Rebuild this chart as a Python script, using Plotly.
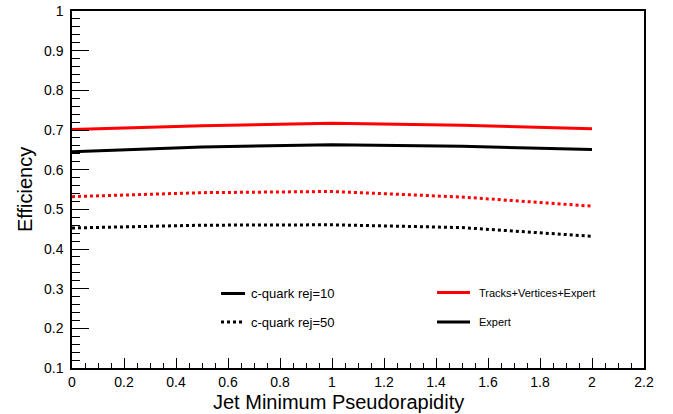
import plotly.graph_objects as go

eta = [0, 0.5, 1.0, 1.5, 2.0]
tve_rej10 = [0.701, 0.711, 0.717, 0.712, 0.703]
exp_rej10 = [0.645, 0.657, 0.663, 0.659, 0.651]
tve_rej50 = [0.532, 0.542, 0.545, 0.531, 0.508]
exp_rej50 = [0.453, 0.460, 0.461, 0.454, 0.432]

FONT = "Liberation Sans, Arial, Helvetica, sans-serif"
DASH = "3px,3px"

fig = go.Figure()
fig.add_trace(go.Scatter(x=eta, y=tve_rej10, mode="lines", line=dict(color="#ff0000", width=3)))
fig.add_trace(go.Scatter(x=eta, y=exp_rej10, mode="lines", line=dict(color="#000000", width=3)))
fig.add_trace(go.Scatter(x=eta, y=tve_rej50, mode="lines", line=dict(color="#ff0000", width=3, dash=DASH)))
fig.add_trace(go.Scatter(x=eta, y=exp_rej50, mode="lines", line=dict(color="#000000", width=3, dash=DASH)))

W, H = 673, 414
L, R, T, B = 72, 29, 11, 46
pw, ph = W - L - R, H - T - B

def px(x):
    return (x - L) / pw

def py(y):
    return (H - B - y) / ph

shapes = []
annotations = []

legend_items = [
    (221, 245, 293.5, "#000000", "solid", "c-quark rej=10", 249, 13),
    (221, 245, 322, "#000000", DASH, "c-quark rej=50", 249, 13),
    (437, 470, 292.5, "#ff0000", "solid", "Tracks+Vertices+Expert", 477, 11),
    (437, 470, 322, "#000000", "solid", "Expert", 477, 11),
]
for x0, x1, yy, col, dash, txt, tx, fs in legend_items:
    shapes.append(dict(type="line", xref="paper", yref="paper",
                       x0=px(x0), x1=px(x1), y0=py(yy), y1=py(yy),
                       line=dict(color=col, width=3, dash=dash)))
    annotations.append(dict(text=txt, xref="paper", yref="paper", x=px(tx), y=py(yy),
                            xanchor="left", yanchor="middle", showarrow=False,
                            font=dict(family=FONT, size=fs, color="black")))

annotations.append(dict(text="Jet Minimum Pseudorapidity", xref="paper", yref="paper",
                        x=px(338.5), y=py(402), xanchor="center", yanchor="middle",
                        showarrow=False, font=dict(family=FONT, size=20, color="black")))
annotations.append(dict(text="Efficiency", xref="paper", yref="paper",
                        x=px(25), y=py(190), xanchor="center", yanchor="middle", textangle=-90,
                        showarrow=False, font=dict(family=FONT, size=20, color="black")))

fig.update_layout(
    width=W, height=H,
    margin=dict(l=L, r=R, t=T, b=B, autoexpand=False),
    paper_bgcolor="white", plot_bgcolor="white",
    showlegend=False,
    shapes=shapes, annotations=annotations,
    font=dict(family=FONT, size=14, color="black"),
)
fig.update_xaxes(range=[0, 2.2], dtick=0.2, tick0=0, showgrid=False, zeroline=False, automargin=False,
                 showline=True, linecolor="black", linewidth=1.5, mirror=True,
                 ticks="inside", ticklen=10, tickwidth=1, tickcolor="black",
                 minor=dict(dtick=0.05, ticks="inside", ticklen=5, tickcolor="black", tickwidth=1, showgrid=False),
                 ticklabelstandoff=0, tickfont=dict(family=FONT, size=14, color="black"))
fig.update_yaxes(range=[0.1, 1.0], dtick=0.1, tick0=0, showgrid=False, zeroline=False, automargin=False,
                 showline=True, linecolor="black", linewidth=1.5, mirror=True,
                 ticks="inside", ticklen=17, tickwidth=1, tickcolor="black",
                 minor=dict(dtick=0.02, ticks="inside", ticklen=8, tickcolor="black", tickwidth=1, showgrid=False),
                 ticklabelstandoff=4, tickfont=dict(family=FONT, size=14, color="black"))

fig.write_html("out.html")
